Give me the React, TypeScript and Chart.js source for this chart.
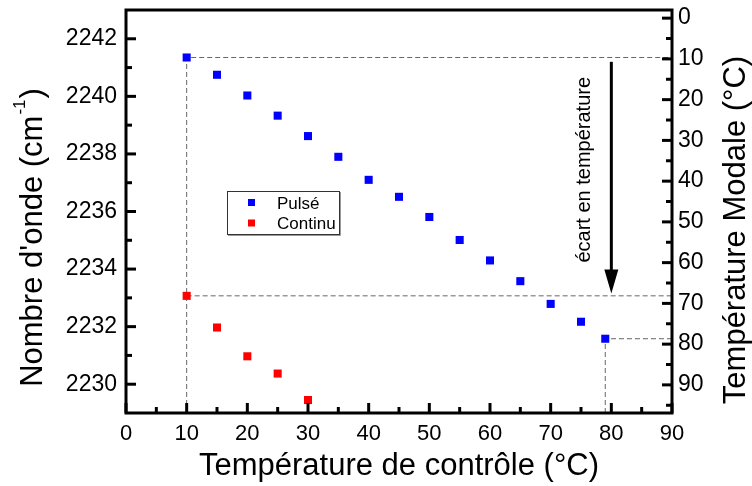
import React, { useEffect, useRef } from "react";
import { Chart, registerables } from "chart.js";

Chart.register(...registerables);

// ---- data ----
const pulseX = [10, 15, 20, 25, 30, 35, 40, 45, 50, 55, 60, 65, 70, 75, 79];
const pulseY = [2241.35, 2240.75, 2240.03, 2239.33, 2238.62, 2237.9, 2237.1, 2236.51, 2235.81, 2235.01, 2234.3, 2233.58, 2232.79, 2232.17, 2231.58];
const contX = [10, 15, 20, 25, 30];
const contY = [2233.07, 2231.97, 2230.97, 2230.37, 2229.45];
const seriesNames = ["Pulsé", "Continu"];

const xTicks = [0, 10, 20, 30, 40, 50, 60, 70, 80, 90];
const xMinor = [5, 15, 25, 35, 45, 55, 65, 75, 85];
const yTicks = [2230, 2232, 2234, 2236, 2238, 2240, 2242];
const yMinor = [2231, 2233, 2235, 2237, 2239, 2241];
const y2Ticks = [0, 10, 20, 30, 40, 50, 60, 70, 80, 90];
const y2Minor = [5, 15, 25, 35, 45, 55, 65, 75, 85, 95];

const xRange = [0, 90];
const yRange = [2229, 2243];
const y2Range = [-2, 96.9];

const xTitle = "Température de contrôle (°C)";
const yTitleMain = "Nombre d'onde (cm";
const yTitleSup = "-1";
const yTitleEnd = ")";
const y2Title = "Température Modale (°C)";
const noteText = "écart en température";
const arrowX = 80;
const arrowFrom = 2241.2;
const arrowTo = 2233.15;
const noteX = 75.6;
const noteY = 2237.45;

const FONT = "'Liberation Sans', Arial, sans-serif";

const overlay = {
  id: "overlay",
  afterDraw(chart: any) {
    const ctx = chart.ctx as CanvasRenderingContext2D;
    const { left, right, top, bottom } = chart.chartArea;
    const sx = chart.scales.x;
    const sy = chart.scales.y;
    const sy2 = chart.scales.y2;
    ctx.save();
    ctx.strokeStyle = "#000";
    ctx.fillStyle = "#000";
    ctx.lineWidth = 3;
    const seg = (x1: number, y1: number, x2: number, y2: number) => {
      ctx.beginPath();
      ctx.moveTo(x1, y1);
      ctx.lineTo(x2, y2);
      ctx.stroke();
    };
    // ticks (inward)
    yTicks.forEach((v) => { const p = sy.getPixelForValue(v); seg(left, p, left + 10, p); });
    yMinor.forEach((v) => { const p = sy.getPixelForValue(v); seg(left, p, left + 6, p); });
    xTicks.forEach((v) => { const p = sx.getPixelForValue(v); seg(p, bottom, p, bottom - 10); });
    xMinor.forEach((v) => { const p = sx.getPixelForValue(v); seg(p, bottom, p, bottom - 6); });
    y2Ticks.forEach((v) => { const p = sy2.getPixelForValue(v); seg(right, p, right - 10, p); });
    y2Minor.forEach((v) => { const p = sy2.getPixelForValue(v); seg(right, p, right - 6, p); });
    // frame
    ctx.lineWidth = 3;
    ctx.strokeRect(left, top, right - left, bottom - top);

    // arrow
    const ax = sx.getPixelForValue(arrowX);
    const a1 = sy.getPixelForValue(arrowFrom);
    const a2 = sy.getPixelForValue(arrowTo);
    ctx.lineWidth = 3;
    seg(ax, a1, ax, a2 - 20);
    ctx.beginPath();
    ctx.moveTo(ax - 7, a2 - 24);
    ctx.lineTo(ax + 7, a2 - 24);
    ctx.lineTo(ax, a2);
    ctx.closePath();
    ctx.fill();

    // note text
    ctx.save();
    ctx.translate(sx.getPixelForValue(noteX), sy.getPixelForValue(noteY));
    ctx.rotate(-Math.PI / 2);
    ctx.font = `20px ${FONT}`;
    ctx.textAlign = "center";
    ctx.textBaseline = "middle";
    ctx.fillText(noteText, 0, 0);
    ctx.restore();

    // legend
    const lx = 227, ly = 191, lw = 112, lh = 43;
    ctx.fillStyle = "#fff";
    ctx.fillRect(lx, ly, lw, lh);
    ctx.strokeStyle = "#999";
    ctx.lineWidth = 1;
    ctx.beginPath();
    ctx.moveTo(lx + lw + 1.5, ly + 1);
    ctx.lineTo(lx + lw + 1.5, ly + lh + 1.5);
    ctx.lineTo(lx + 1, ly + lh + 1.5);
    ctx.stroke();
    ctx.strokeStyle = "#333";
    ctx.strokeRect(lx + 0.5, ly + 0.5, lw, lh);
    const ds = chart.data.datasets;
    ctx.font = `17px ${FONT}`;
    ctx.textAlign = "left";
    ctx.textBaseline = "alphabetic";
    [0, 1].forEach((i) => {
      const cy = ly + 11.5 + i * 20.5;
      ctx.fillStyle = ds[i].backgroundColor;
      ctx.fillRect(248, cy - 3.5, 7, 7);
      ctx.fillStyle = "#000";
      ctx.fillText(ds[i].label, 277, cy + 6);
    });

    // axis titles
    ctx.fillStyle = "#000";
    ctx.font = `31px ${FONT}`;
    ctx.textAlign = "center";
    ctx.textBaseline = "alphabetic";
    ctx.fillText(xTitle, (left + right) / 2, 475);

    // left title with superscript
    ctx.save();
    ctx.translate(41.7, 237.5);
    ctx.rotate(-Math.PI / 2);
    ctx.textAlign = "left";
    ctx.font = `31px ${FONT}`;
    const w1 = ctx.measureText(yTitleMain).width;
    const w3 = ctx.measureText(yTitleEnd).width;
    ctx.font = `17px ${FONT}`;
    const w2 = ctx.measureText(yTitleSup).width;
    const total = w1 + w2 + w3 + 2;
    let cx = -total / 2;
    ctx.font = `31px ${FONT}`;
    ctx.fillText(yTitleMain, cx, 0);
    cx += w1 + 1;
    ctx.font = `17px ${FONT}`;
    ctx.fillText(yTitleSup, cx, -16.5);
    cx += w2 + 1;
    ctx.font = `31px ${FONT}`;
    ctx.fillText(yTitleEnd, cx, 0);
    ctx.restore();

    // right title
    ctx.save();
    ctx.translate(745, 230);
    ctx.rotate(-Math.PI / 2);
    ctx.font = `31px ${FONT}`;
    ctx.textAlign = "center";
    ctx.fillText(y2Title, 0, 0);
    ctx.restore();

    ctx.restore();
  },
};

export default function App() {
  const ref = useRef<HTMLCanvasElement | null>(null);
  useEffect(() => {
    if (!ref.current) return;
    const pts = (xs: number[], ys: number[]) => xs.map((x, i) => ({ x, y: ys[i] }));
    const guideStyle = {
      showLine: true,
      borderColor: "#666",
      borderWidth: 1,
      borderDash: [5, 3],
      pointRadius: 0,
      backgroundColor: "transparent",
      fill: false,
    };
    const last = pulseX.length - 1;
    const tickFont = (size: number) => ({ family: FONT, size });
    const plain = (v: any) => String(v);
    const chart = new Chart(ref.current, {
      type: "scatter",
      data: {
        datasets: [
          {
            label: seriesNames[0],
            data: pts(pulseX, pulseY),
            pointStyle: "rect",
            pointRadius: 5.7,
            borderWidth: 0,
            backgroundColor: "#0000ff",
            borderColor: "#0000ff",
          },
          {
            label: seriesNames[1],
            data: pts(contX, contY),
            pointStyle: "rect",
            pointRadius: 5.7,
            borderWidth: 0,
            backgroundColor: "#ff0000",
            borderColor: "#ff0000",
          },
          {
            label: "g1",
            data: [
              { x: pulseX[0], y: yRange[0] },
              { x: pulseX[0], y: pulseY[0] },
              { x: xRange[1], y: pulseY[0] },
            ],
            ...guideStyle,
          },
          {
            label: "g2",
            data: [
              { x: contX[0], y: contY[0] },
              { x: xRange[1], y: contY[0] },
            ],
            ...guideStyle,
          },
          {
            label: "g3",
            data: [
              { x: pulseX[last], y: yRange[0] },
              { x: pulseX[last], y: pulseY[last] },
              { x: xRange[1], y: pulseY[last] },
            ],
            ...guideStyle,
          },
        ] as any,
      },
      options: {
        animation: false,
        responsive: true,
        maintainAspectRatio: false,
        layout: { padding: { top: 10, left: 0, right: 0, bottom: 0 } },
        plugins: { legend: { display: false }, tooltip: { enabled: false } },
        scales: {
          x: {
            type: "linear",
            position: "bottom",
            min: xRange[0],
            max: xRange[1],
            afterBuildTicks: (s: any) => { s.ticks = xTicks.map((v) => ({ value: v })); },
            afterFit: (s: any) => { s.height = 73; s.paddingLeft = 0; s.paddingRight = 0; },
            ticks: { font: tickFont(22), color: "#000", padding: 8, maxRotation: 0, autoSkip: false, callback: plain },
            grid: { display: false, drawTicks: false },
            border: { display: false },
          },
          y: {
            type: "linear",
            position: "left",
            min: yRange[0],
            max: yRange[1],
            afterBuildTicks: (s: any) => { s.ticks = yTicks.map((v) => ({ value: v })); },
            afterFit: (s: any) => { s.width = 126; s.paddingTop = 0; s.paddingBottom = 0; },
            ticks: { font: tickFont(23), color: "#000", padding: 9, autoSkip: false, callback: plain },
            grid: { display: false, drawTicks: false },
            border: { display: false },
          },
          y2: {
            type: "linear",
            position: "right",
            reverse: true,
            min: y2Range[0],
            max: y2Range[1],
            afterBuildTicks: (s: any) => { s.ticks = y2Ticks.map((v) => ({ value: v })); },
            afterFit: (s: any) => { s.width = 80; s.paddingTop = 0; s.paddingBottom = 0; },
            ticks: { font: tickFont(23), color: "#000", padding: 6, autoSkip: false, callback: plain },
            grid: { display: false, drawTicks: false },
            border: { display: false },
          },
        },
      } as any,
      plugins: [overlay],
    });
    return () => chart.destroy();
  }, []);
  return (
    <div style={{ position: "fixed", left: 0, top: 0, width: 752, height: 486, background: "#fff" }}>
      <canvas ref={ref} />
    </div>
  );
}
